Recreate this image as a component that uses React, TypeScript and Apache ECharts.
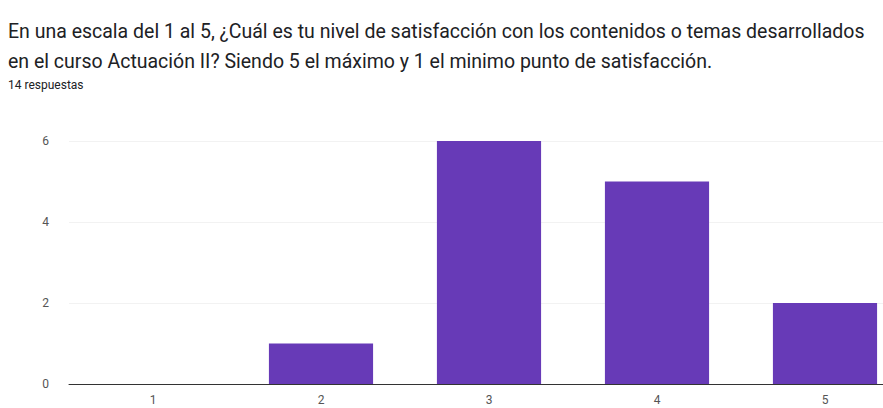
import React, { useEffect, useRef } from "react";
import * as echarts from "echarts";

const categories = ["1", "2", "3", "4", "5"];
const counts = [0, 1, 6, 5, 2];
const yTicks = [0, 2, 4, 6];
const titleLines = [
  "En una escala del 1 al 5, ¿Cuál es tu nivel de satisfacción con los contenidos o temas desarrollados",
  "en el curso Actuación II? Siendo 5 el máximo y 1 el minimo punto de satisfacción.",
];
const subtitle = "14 respuestas";

export default function App() {
  const ref = useRef<HTMLDivElement>(null);
  useEffect(() => {
    const chart = echarts.init(ref.current!, null, { renderer: "svg" });
    chart.setOption({
      animation: false,
      backgroundColor: "#ffffff",
      title: [
        {
          text: titleLines.join("\n"),
          left: 8,
          top: 16,
          padding: 0,
          textStyle: {
            fontFamily: "Roboto",
            fontSize: 19.5,
            fontWeight: "normal",
            color: "#202124",
            lineHeight: 30,
          },
        },
        {
          text: subtitle,
          left: 8,
          top: 79,
          padding: 0,
          textStyle: {
            fontFamily: "Roboto",
            fontSize: 12,
            fontWeight: "normal",
            color: "#202124",
          },
        },
      ],
      grid: { left: 69, top: 141, width: 840, bottom: 24, containLabel: false },
      xAxis: {
        type: "category",
        data: categories,
        axisLine: { lineStyle: { color: "#333333", width: 1 } },
        axisTick: { show: false },
        axisLabel: { color: "#555555", fontSize: 12, fontFamily: "Roboto", margin: 10 },
      },
      yAxis: {
        type: "value",
        min: yTicks[0],
        max: yTicks[yTicks.length - 1],
        interval: 2,
        axisLine: { show: false },
        axisTick: { show: false },
        axisLabel: { color: "#555555", fontSize: 12, fontFamily: "Roboto", margin: 20 },
        splitLine: { lineStyle: { color: "#f2f2f2" } },
      },
      series: [
        {
          type: "bar",
          data: counts,
          barWidth: "62%",
          itemStyle: { color: "#673ab7" },
        },
      ],
    });
    return () => chart.dispose();
  }, []);
  return (
    <div
      style={{ position: "absolute", left: 0, top: 0, width: 883, height: 408, overflow: "hidden" }}
    >
      <div ref={ref} style={{ width: 930, height: 408 }} />
    </div>
  );
}
